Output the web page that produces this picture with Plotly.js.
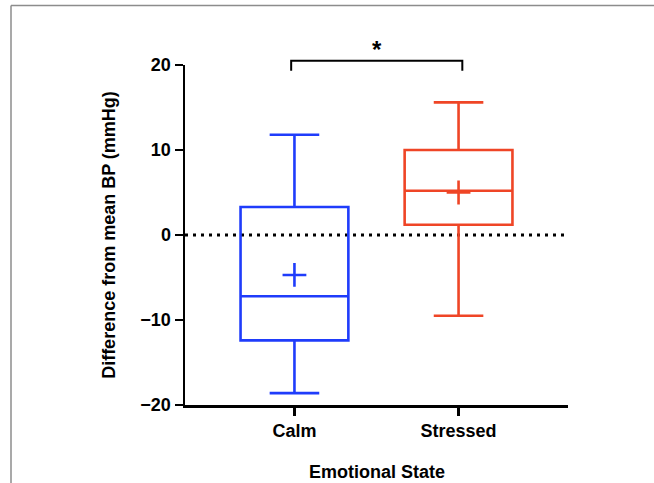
<!DOCTYPE html>
<html>
<head>
<meta charset="utf-8">
<script src="https://cdn.plot.ly/plotly-3.0.1.min.js"></script>
<style>
  html, body { margin: 0; padding: 0; background: #ffffff; }
  #chart { width: 654px; height: 483px; }
</style>
</head>
<body>
<div id="chart"></div>
<script>
// ---- data ----
const categories = ["Calm", "Stressed"];
const categoryPos = [0, 1];
const lowerFence = [-18.6, -9.5];
const q1Values = [-12.4, 1.2];
const medianValues = [-7.2, 5.2];
const q3Values = [3.3, 10.0];
const upperFence = [11.8, 15.6];
const meanValues = [-4.7, 5.0];
const yTickVals = [-20, -10, 0, 10, 20];
const colors = ["#1f3cfb", "#ef4526"];
const sigLabel = "*";
const xTitle = "Emotional State";
const yTitle = "Difference from mean BP (mmHg)";

const FONT = "Liberation Sans, Arial, Helvetica, sans-serif";

const traces = [];
categories.forEach((c, i) => {
  traces.push({
    type: "box",
    name: c,
    x: [categoryPos[i]],
    q1: [q1Values[i]],
    median: [medianValues[i]],
    q3: [q3Values[i]],
    lowerfence: [lowerFence[i]],
    upperfence: [upperFence[i]],
    width: 0.657,
    whiskerwidth: 0.46,
    boxpoints: false,
    line: { color: colors[i], width: 2.6 },
    fillcolor: "rgba(0,0,0,0)",
    hoverinfo: "skip",
    showlegend: false
  });
});
categories.forEach((c, i) => {
  traces.push({
    type: "scatter",
    mode: "markers",
    x: [categoryPos[i]],
    y: [meanValues[i]],
    marker: { symbol: "cross-thin", size: 17, line: { color: colors[i], width: 2.6 }, color: colors[i] },
    hoverinfo: "skip",
    showlegend: false
  });
});

const layout = {
  width: 654,
  height: 483,
  margin: { l: 185, r: 86, t: 65, b: 78 },
  paper_bgcolor: "#ffffff",
  plot_bgcolor: "#ffffff",
  font: { family: FONT, size: 18, color: "#000000", weight: 700 },
  boxmode: "overlay",
  showlegend: false,
  xaxis: {
    range: [-0.667, 1.667],
    tickvals: categoryPos,
    ticktext: categories,
    ticks: "outside",
    ticklen: 8,
    tickwidth: 2.5,
    tickcolor: "#000",
    showline: true,
    linewidth: 2.5,
    linecolor: "#000",
    showgrid: false,
    zeroline: false,
    tickfont: { family: FONT, size: 18, weight: 700 },
    automargin: false,
    fixedrange: true
  },
  yaxis: {
    range: [-20, 20],
    tickvals: yTickVals,
    ticks: "outside",
    ticklen: 8,
    tickwidth: 2.5,
    tickcolor: "#000",
    showline: true,
    linewidth: 2.5,
    linecolor: "#000",
    showgrid: false,
    zeroline: false,
    tickfont: { family: FONT, size: 18, weight: 700 },
    title: { text: yTitle, font: { family: FONT, size: 18, weight: 700 }, standoff: 20 },
    automargin: false,
    fixedrange: true
  },
  shapes: [
    // dotted zero reference line
    { type: "line", xref: "paper", yref: "y", x0: 0, x1: 1, y0: 0, y1: 0,
      line: { color: "#000", width: 3, dash: "3px,5px" }, layer: "below" },
    // significance bracket
    { type: "path", xref: "x", yref: "paper",
      path: "M -0.02,0.983 L -0.02,1.0126 L 1.023,1.0126 L 1.023,0.983",
      line: { color: "#000", width: 2 } },
    // screenshot frame (top and left edges)
    { type: "line", xref: "paper", yref: "paper", x0: -0.4543, x1: -0.4543, y0: -0.25, y1: 1.175,
      line: { color: "#8c8c8c", width: 1.5 } },
    { type: "line", xref: "paper", yref: "paper", x0: -0.4543, x1: 1.25, y0: 1.175, y1: 1.175,
      line: { color: "#8c8c8c", width: 1.5 } }
  ],
  annotations: [
    { xref: "x", yref: "paper", x: 0.5, y: 1.047, text: sigLabel, showarrow: false,
      font: { family: FONT, size: 24, weight: 700, color: "#000" }, xanchor: "center", yanchor: "middle" },
    // x-axis title (annotation so it can sit near the bottom edge like the reference)
    { xref: "paper", yref: "paper", x: 0.5, y: -0.196, text: xTitle, showarrow: false,
      font: { family: FONT, size: 18, weight: 700, color: "#000" }, xanchor: "center", yanchor: "middle" }
  ]
};

Plotly.newPlot("chart", traces, layout, { displayModeBar: false, staticPlot: true });
</script>
</body>
</html>
